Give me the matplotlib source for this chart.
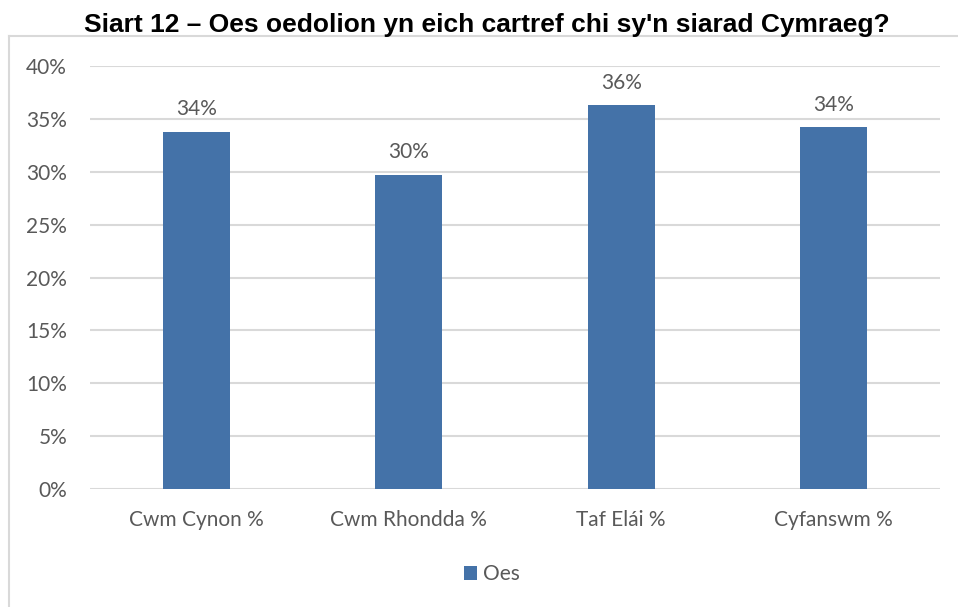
import matplotlib.pyplot as plt
from matplotlib.lines import Line2D
from matplotlib.ticker import FuncFormatter

# data
categories = ['Cwm Cynon %', 'Cwm Rhondda %', 'Taf Elái %', 'Cyfanswm %']
oes = [33.8, 29.7, 36.3, 34.2]
series_name = 'Oes'
title = "Siart 12 – Oes oedolion yn eich cartref chi sy'n siarad Cymraeg?"

bar_color = '#4472A8'
grid_color = '#D9D9D9'
text_color = '#595959'

plt.rcParams['font.family'] = ['Lato', 'DejaVu Sans']

fig = plt.figure(figsize=(9.58, 6.07), dpi=100)
ax = fig.add_axes([90 / 958, 1 - 489 / 607, 850 / 958, 423 / 607])

x = range(len(categories))
bars = ax.bar(x, oes, width=0.315, color=bar_color, label=series_name, zorder=3)
for b, v in zip(bars, oes):
    ax.annotate('%d%%' % round(v), (b.get_x() + b.get_width() / 2, v),
                xytext=(0, 9), textcoords='offset points', ha='center', va='bottom',
                fontsize=15, color=text_color)

ax.set_xlim(-0.5, len(categories) - 0.5)
ax.set_ylim(0, 40)
ax.set_yticks(range(0, 41, 5))
ax.yaxis.set_major_formatter(FuncFormatter(lambda v, p: '%d%%' % v))
ax.set_xticks(list(x))
ax.set_xticklabels(categories)
ax.tick_params(length=0, labelsize=15, labelcolor=text_color)
ax.tick_params(axis='y', pad=16.5)
ax.tick_params(axis='x', pad=15)
ax.grid(axis='y', color=grid_color, linewidth=1.5, zorder=0)
for s in ax.spines.values():
    s.set_visible(False)

fig.text(487 / 958, 1 - 32 / 607, title, ha='center', va='baseline',
         fontsize=19, fontweight='bold', family=['Liberation Sans', 'DejaVu Sans'])

# chart frame (top and left edges visible)
fig.add_artist(Line2D([8.5 / 958, 8.5 / 958], [0, 1 - 36 / 607], color=grid_color, lw=1.5))
fig.add_artist(Line2D([8.5 / 958, 1], [1 - 36 / 607, 1 - 36 / 607], color=grid_color, lw=1.5))

leg = fig.legend(loc='center', bbox_to_anchor=(492 / 958, 1 - 574 / 607), frameon=False,
                 fontsize=15, handlelength=0.65, handleheight=0.65, handletextpad=0.3)
for t in leg.get_texts():
    t.set_color(text_color)

fig.savefig('out.png', dpi=100)
